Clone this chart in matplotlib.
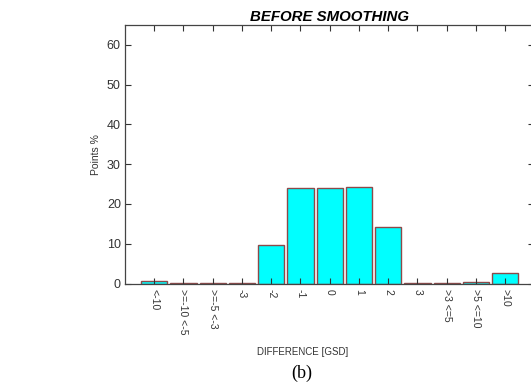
import matplotlib.pyplot as plt

# Histogram of point differences, expressed in GSD units
categories = ["<-10", ">=-10 <-5", ">=-5 <-3", "-3", "-2", "-1", "0",
              "1", "2", "3", ">3 <=5", ">5 <=10", ">10"]
points_pct = [0.55, 0.1, 0.1, 0.15, 9.8, 24.0, 24.0,
              24.3, 14.3, 0.1, 0.1, 0.3, 2.7]

plt.rcParams["font.family"] = ["Liberation Sans", "DejaVu Sans"]

fig = plt.figure(figsize=(5.31, 3.90), dpi=100)
ax = fig.add_axes([0.2354, 0.273, 0.771, 0.663])

positions = list(range(1, len(categories) + 1))
ax.bar(positions, points_pct, width=0.9, color="#00ffff",
       edgecolor="#8c4a4a", linewidth=1.0)

ax.set_xlim(0, 14)
ax.set_ylim(0, 65)
ax.set_yticks(range(0, 61, 10))
ax.set_xticks(positions)
ax.set_xticklabels(categories, rotation=270, ha="center", va="top")

ax.tick_params(direction="in", length=4, width=0.8, colors="#333333",
               labelcolor="#333333", top=True, right=True, pad=4)
ax.tick_params(axis="x", labelsize=7.5)
ax.tick_params(axis="y", labelsize=9, pad=3)
for spine in ax.spines.values():
    spine.set_color("#444444")
    spine.set_linewidth(0.9)

ax.set_title("BEFORE SMOOTHING", fontsize=10.8, fontweight="bold",
             fontstyle="italic", pad=3)
ax.set_ylabel("Points %", fontsize=7.5, color="#333333", labelpad=4)

fig.text(0.569, 0.098, "DIFFERENCE [GSD]", ha="center", va="center",
         fontsize=7, color="#333333")
fig.text(0.569, 0.043, "(b)", ha="center", va="center", fontsize=13,
         family=["Liberation Serif", "DejaVu Serif"])

fig.savefig("out.png", dpi=100)
